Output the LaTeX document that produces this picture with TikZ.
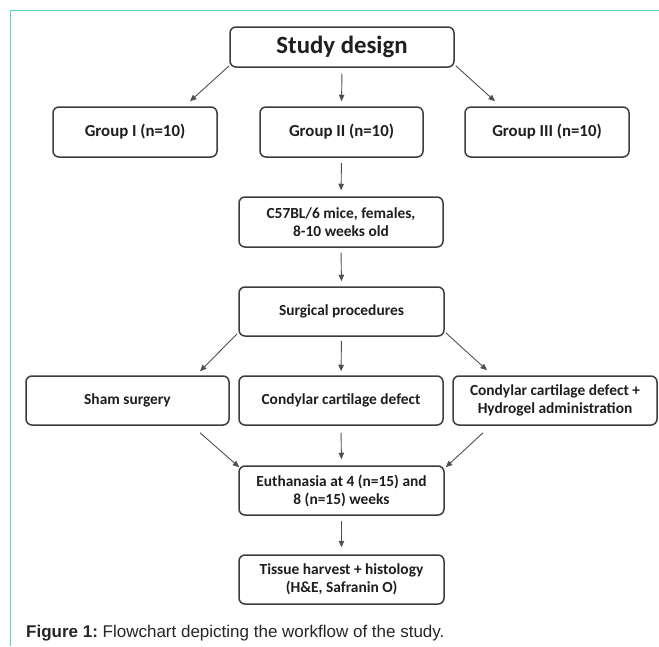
\documentclass[tikz,border=0pt]{standalone}
\usepackage{fontspec}
\setmainfont{Carlito}
\newfontfamily\capfont{Liberation Sans}
\usetikzlibrary{arrows.meta,calc}
\definecolor{frameteal}{RGB}{88,212,192}
\definecolor{boxline}{RGB}{60,60,60}
\definecolor{arrline}{RGB}{80,80,80}
\definecolor{txt}{RGB}{30,30,30}
\tikzset{
  box/.style={draw=boxline, line width=1.5pt, rounded corners=6pt, fill=white,
    align=center, inner sep=0pt, text=txt, font=\bfseries\fontsize{15.4}{18}\selectfont},
  grp/.style={box, font=\bfseries\fontsize{16.8}{19}\selectfont},
  arr/.style={draw=arrline, line width=0.9pt, -{Triangle[length=6.5pt,width=5.5pt]}},
}
\begin{document}
\begin{tikzpicture}[x=1pt,y=-1pt]
\useasboundingbox (0,0) rectangle (659,646);
% frame
\draw[frameteal, line width=1.4pt] (659,10.5) -- (10.5,10.5) -- (10.5,646);
% nodes
\node[box, minimum width=224pt, minimum height=40pt, font=\bfseries\fontsize{24.8}{26}\selectfont] (study) at (342,47) {Study design};
\node[grp, minimum width=164pt, minimum height=50pt] (g1) at (135,132) {Group I (n=10)};
\node[grp, minimum width=163pt, minimum height=50pt] (g2) at (341.5,132) {Group II (n=10)};
\node[grp, minimum width=164pt, minimum height=50pt] (g3) at (547,132) {Group III (n=10)};
\node[box, minimum width=204pt, minimum height=50pt] (mice) at (341,222) {C57BL/6 mice, females,\\8-10 weeks old};
\node[box, minimum width=205pt, minimum height=49pt] (surg) at (341.5,311.5) {Surgical procedures};
\node[box, minimum width=203pt, minimum height=49pt] (sham) at (127.5,400.5) {Sham surgery};
\node[box, minimum width=204pt, minimum height=49pt] (cond) at (341,400.5) {Condylar cartilage defect};
\node[box, minimum width=204pt, minimum height=49pt] (hyd) at (555,400.5) {Condylar cartilage defect +\\Hydrogel administration};
\node[box, minimum width=205pt, minimum height=49pt] (euth) at (341.5,490.5) {Euthanasia at 4 (n=15) and\\8 (n=15) weeks};
\node[box, minimum width=205pt, minimum height=49pt] (tissue) at (341.5,579.5) {Tissue harvest + histology\\(H\&E, Safranin O)};
% connectors
\draw[arr] ([shift={(0,-2)}]study.south west) -- ([shift={(55,-5)}]g1.north);
\draw[arr, shorten <=6pt, shorten >=5pt] (study.south) -- (g2.north);
\draw[arr] ([shift={(1,-2)}]study.south east) -- ([shift={(-52,-5)}]g3.north);
\draw[arr, shorten <=5pt, shorten >=6pt] (g2.south) -- (mice.north);
\draw[arr, shorten <=5pt, shorten >=5pt] (mice.south) -- (surg.north);
\draw[arr] ([shift={(-1,-3)}]surg.south west) -- ([shift={(72.5,-4)}]sham.north);
\draw[arr, shorten <=4pt, shorten >=4pt] (surg.south) -- (cond.north);
\draw[arr] ([shift={(1,-4)}]surg.south east) -- ([shift={(-68,-5)}]hyd.north);
\draw[arr] ([shift={(72.5,7)}]sham.south) -- ([shift={(1,2)}]euth.north west);
\draw[arr, shorten <=7pt, shorten >=6pt] (cond.south) -- (euth.north);
\draw[arr] ([shift={(-72,7)}]hyd.south) -- ([shift={(1,2)}]euth.north east);
\draw[arr, shorten <=5pt, shorten >=7pt] (euth.south) -- (tissue.north);
% caption
\node[anchor=base west, inner sep=0pt, text=black!85, font=\capfont\fontsize{17}{19}\selectfont] (cap) at (26,637) {\textbf{Figure 1:}~Flowchart depicting the workflow of the study.};
\end{tikzpicture}
\end{document}
